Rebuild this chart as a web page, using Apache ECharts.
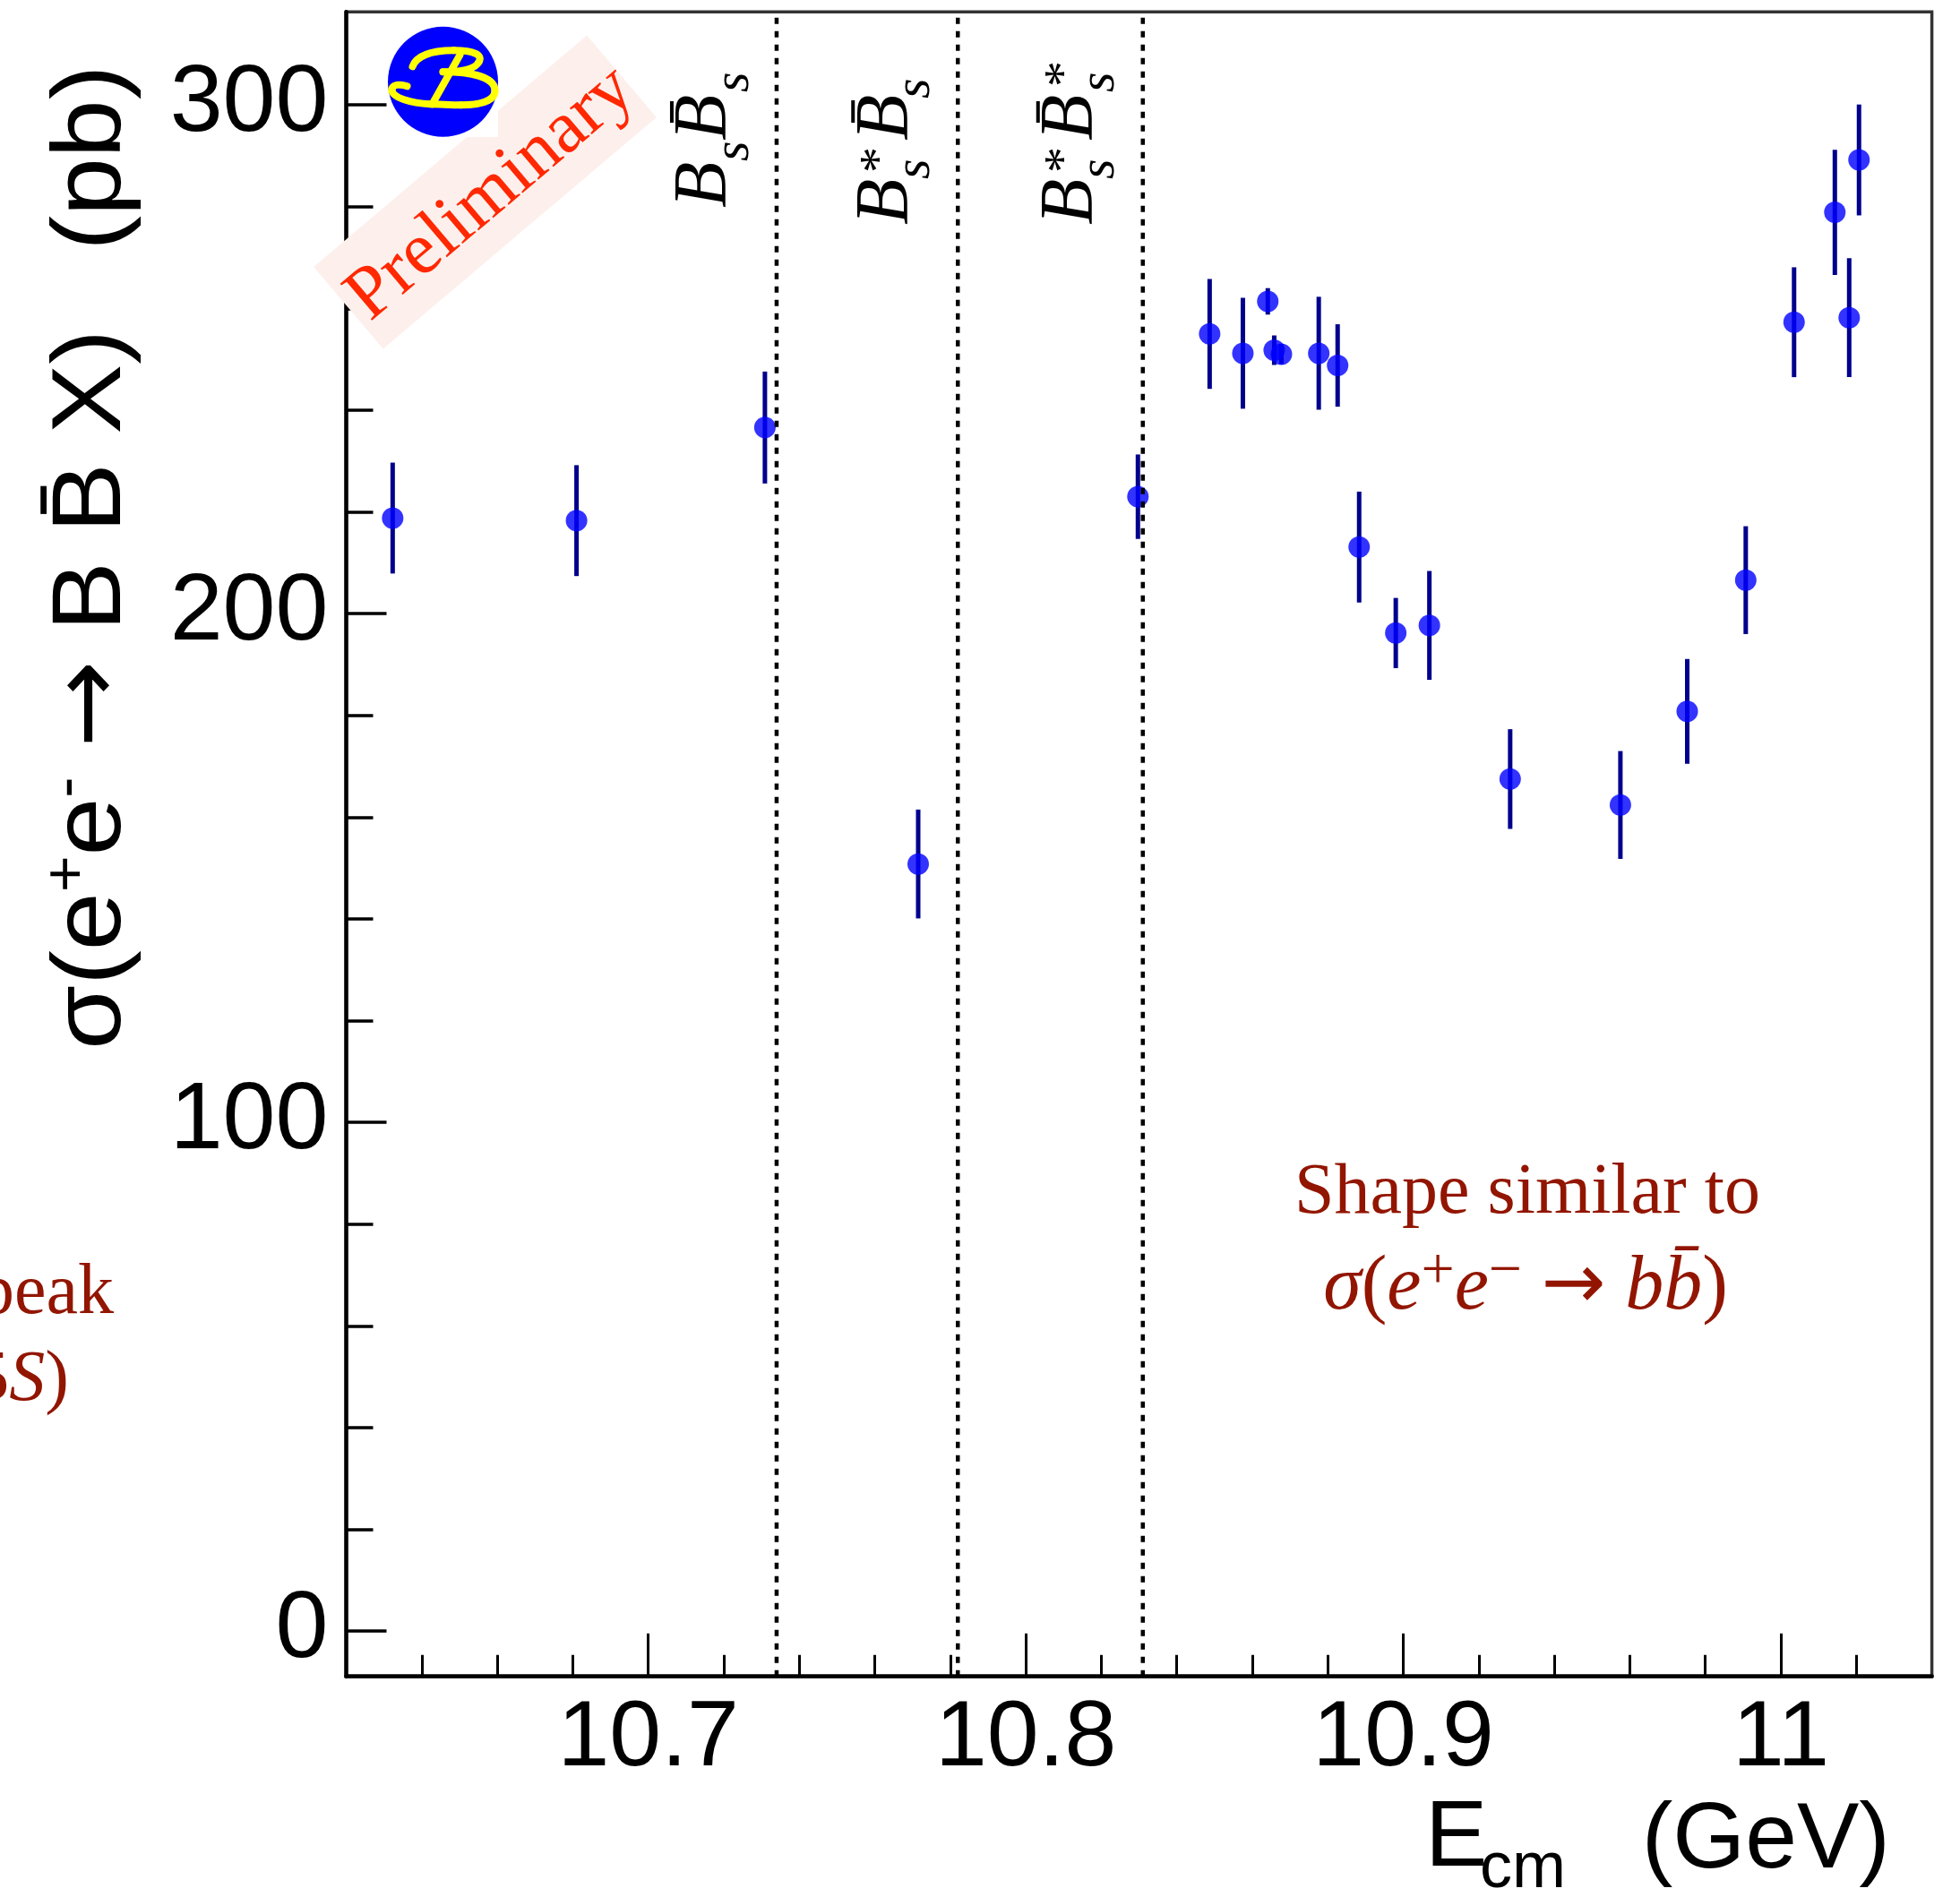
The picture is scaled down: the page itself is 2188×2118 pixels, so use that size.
<!DOCTYPE html>
<html><head><meta charset="utf-8">
<script src="https://cdn.jsdelivr.net/npm/echarts@6/dist/echarts.min.js"></script>
<style>html,body{margin:0;padding:0;background:#fff}#c{width:2188px;height:2118px}</style>
</head><body><div id="c"></div>
<script>
// ---- data ----
const energies = [10.6323, 10.6810, 10.7309, 10.7715, 10.8297, 10.8487, 10.8575, 10.8641, 10.8658, 10.8677, 10.8776, 10.8826, 10.8883, 10.8980, 10.9069, 10.9283, 10.9575, 10.9752, 10.9907, 11.0035, 11.0143, 11.0181, 11.0207];
const sigma    = [218.8, 218.3, 236.6, 150.8, 223.0, 255.0, 251.2, 261.4, 251.8, 251.0, 251.2, 248.8, 213.1, 196.2, 197.7, 167.5, 162.4, 180.8, 206.6, 257.3, 278.9, 258.2, 289.2];
const errors   = [10.9, 10.9, 11.0, 10.7, 8.3, 10.8, 10.9, 2.6, 2.9, 2.0, 11.1, 8.1, 10.9, 6.9, 10.7, 9.8, 10.6, 10.3, 10.6, 10.8, 12.3, 11.7, 10.9];
const thresholds = [10.734, 10.782, 10.831];
const xMajorTicks = [10.7, 10.8, 10.9, 11.0];
const xMinorTicks = [10.64, 10.66, 10.68, 10.72, 10.74, 10.76, 10.78, 10.82, 10.84, 10.86, 10.88, 10.92, 10.94, 10.96, 10.98, 11.02];
const yMajorTicks = [0, 100, 200, 300];
const yMinorTicks = [20, 40, 60, 80, 120, 140, 160, 180, 220, 240, 260, 280];
const xRange = [10.62, 11.04];
const yRange = [-8.9, 318.3];

const SANS = '"Liberation Sans", Arimo, Helvetica, Arial, sans-serif';
const SERIF = '"Liberation Serif", "Times New Roman", Times, serif';
const DARKRED = '#921500';

const chart = echarts.init(document.getElementById('c'), null, {renderer: 'canvas'});

const errData = energies.map((e, i) => [e, sigma[i] - errors[i], sigma[i] + errors[i]]);
const ptData = energies.map((e, i) => [e, sigma[i]]);
const thrData = thresholds.map(v => [v, yRange[0], yRange[1]]);

function fmtX(v) { return Math.abs(v - 11) < 1e-6 ? '11' : (Math.round(v * 10) / 10).toFixed(1); }

function vLine(stroke, width, dash) {
  return function (params, api) {
    const x = api.value(0);
    const p1 = api.coord([x, api.value(1)]);
    const p2 = api.coord([x, api.value(2)]);
    const st = {stroke: stroke, lineWidth: width};
    if (dash) st.lineDash = dash;
    return {type: 'line', shape: {x1: p1[0], y1: p1[1], x2: p2[0], y2: p2[1]}, style: st};
  };
}

const option = {
  animation: false,
  backgroundColor: '#fff',
  grid: {left: 386.5, top: 13.3, right: 31.4, bottom: 246.3, show: true, borderColor: '#333', borderWidth: 3.5, backgroundColor: 'transparent'},
  xAxis: [
    {type: 'value', min: xRange[0], max: xRange[1], position: 'bottom',
     axisLine: {show: true, onZero: false, lineStyle: {color: '#000', width: 4.5}},
     axisTick: {show: true, inside: true, length: 48, customValues: xMajorTicks, lineStyle: {color: '#000', width: 3}},
     axisLabel: {show: true, customValues: xMajorTicks, formatter: fmtX, fontSize: 104, fontFamily: SANS, color: '#000', margin: 19},
     splitLine: {show: false}},
    {type: 'value', min: xRange[0], max: xRange[1], position: 'bottom',
     axisLine: {show: false, onZero: false},
     axisTick: {show: true, inside: true, length: 24, customValues: xMinorTicks, lineStyle: {color: '#000', width: 3}},
     axisLabel: {show: false}, splitLine: {show: false}}
  ],
  yAxis: [
    {type: 'value', min: yRange[0], max: yRange[1], position: 'left',
     axisLine: {show: true, onZero: false, lineStyle: {color: '#000', width: 4.5}},
     axisTick: {show: true, inside: true, length: 45, customValues: yMajorTicks, lineStyle: {color: '#000', width: 3.5}},
     axisLabel: {show: true, customValues: yMajorTicks, formatter: v => String(Math.round(v)), fontSize: 106, fontFamily: SANS, color: '#000', margin: 20},
     splitLine: {show: false}},
    {type: 'value', min: yRange[0], max: yRange[1], position: 'left',
     axisLine: {show: false, onZero: false},
     axisTick: {show: true, inside: true, length: 30, customValues: yMinorTicks, lineStyle: {color: '#000', width: 3.5}},
     axisLabel: {show: false}, splitLine: {show: false}}
  ],
  series: [
    {type: 'custom', xAxisIndex: 0, yAxisIndex: 0, data: errData, encode: {x: 0, y: [1, 2]}, z: 2, silent: true,
     renderItem: vLine('#00008c', 5)},
    {type: 'scatter', xAxisIndex: 0, yAxisIndex: 0, data: ptData, symbol: 'circle', symbolSize: 24, itemStyle: {color: '#0000ff'}, z: 3, silent: true},
    {type: 'custom', xAxisIndex: 0, yAxisIndex: 0, data: thrData, encode: {x: 0, y: [1, 2]}, z: 4, silent: true, clip: false,
     renderItem: vLine('#000', 4.5, [7, 8])}
  ]
};
chart.setOption(option);

// ---- annotations ----
const thrPx = thresholds.map(v => chart.convertToPixel({xAxisIndex: 0}, v));
function txt(x, y, text, font, fill, align, z) {
  return {type: 'text', x: x, y: y, z: z || 10, silent: true,
    style: {text: text, font: font, fill: fill, align: align || 'left', verticalAlign: 'middle', textAlign: align || 'left', textVerticalAlign: 'middle'}};
}
// piece: [text, alongX, baselineOffset, size, italic]
const thrLayouts = [
  {start: 232, pieces: [['B', 0, 0, 84, 1], ['s', 52, 23, 58, 1], ['B', 75, 0, 84, 1], ['s', 129, 23, 58, 1]], bars: [[95, 119]]},
  {start: 251, pieces: [['B', 0, 0, 84, 1], ['s', 51, 23, 58, 1], ['*', 58, -15, 58, 0], ['B', 94, 0, 84, 1], ['s', 141, 23, 58, 1]], bars: [[114, 139]]},
  {start: 251, pieces: [['B', 0, 0, 84, 1], ['s', 51, 23, 58, 1], ['*', 58, -15, 58, 0], ['B', 94, 0, 84, 1], ['s', 148, 23, 58, 1], ['*', 154, -15, 58, 0]], bars: [[114, 138]]}
];
const graphics = [];
thrLayouts.forEach((L, k) => {
  const children = L.pieces.map(p => txt(p[1], p[2] - 0.305 * p[3], p[0], (p[4] ? 'italic ' : '') + p[3] + 'px ' + SERIF, '#000', 'left', 10));
  L.bars.forEach(b => children.push({type: 'rect', z: 10, silent: true, shape: {x: b[0], y: -66, width: b[1] - b[0], height: 4}, style: {fill: '#000'}}));
  graphics.push({type: 'group', x: thrPx[k] - 53, y: L.start, rotation: Math.PI / 2, children: children});
});

// Preliminary stamp
graphics.push({type: 'group', x: 541.5, y: 214.5, rotation: 40.3 * Math.PI / 180, children: [
  {type: 'rect', z: 50, silent: true, shape: {x: -200, y: -60, width: 400, height: 120}, style: {fill: '#fdf0ec'}},
  txt(4, 6, 'Preliminary', '83px ' + SERIF, '#ff2800', 'center', 51)
]});
// Belle logo
const bSegs = [
  [-34, -17, -30, -28, -15, -35, 12, -35],
  [12, -35, 35, -35, 45, -30, 40, -22],
  [40, -22, 36, -14, 20, -11, 0, -11],
  [0, -11, 30, -11, 58, -6, 58, 10],
  [58, 10, 58, 22, 40, 26, 20, 26],
  [20, 26, 8, 26, -4, 25, -14, 25],
  [-14, 25, -35, 24, -57, 18, -57, 9],
  [-57, 9, -57, 3, -48, 2, -40, 5],
  [19, -30, 9, -12, -2, 7, -12, 25]
];
const logoChildren = [{type: 'circle', z: 53, silent: true, shape: {cx: 0, cy: 0, r: 61.5}, style: {fill: '#0000ff'}}];
bSegs.forEach(s => logoChildren.push({type: 'bezierCurve', z: 54, silent: true,
  shape: {x1: s[0], y1: s[1], cpx1: s[2], cpy1: s[3], cpx2: s[4], cpy2: s[5], x2: s[6], y2: s[7]},
  style: {fill: null, stroke: '#ffff00', lineWidth: 8, lineCap: 'round'}}));
graphics.push({type: 'rect', silent: true, z: 52, shape: {x: 433, y: 30, width: 123, height: 123}, style: {fill: '#fff'}});
graphics.push({type: 'group', x: 494.5, y: 91.3, children: logoChildren});

// Y axis title (slightly stretched along its length, like the reference)
graphics.push({type: 'text', x: 104, y: 1172, z: 10, rotation: Math.PI / 2, scaleX: 1.06, silent: true, style: {
  text: '{m|σ(e}{s|+}{m|e}{s|-}{m| }{a|→}{m| B B̄ X)  \u2009(pb)}',
  align: 'left', verticalAlign: 'middle', textAlign: 'left', textVerticalAlign: 'middle', fill: '#000',
  rich: {m: {fontSize: 110, fontFamily: SANS, lineHeight: 120, fill: '#000', color: '#000'},
         a: {fontSize: 110, fontFamily: '"DejaVu Sans"', lineHeight: 120, fill: '#000', color: '#000'},
         s: {fontSize: 66, fontFamily: SANS, lineHeight: 60, verticalAlign: 'top', fill: '#000', color: '#000'}}
}});
// X axis title
graphics.push(txt(1591, 2054, 'E', '104px ' + SANS, '#000', 'left'));
graphics.push(txt(1652, 2087, 'cm', '72px ' + SANS, '#000', 'left'));
graphics.push(txt(2110, 2056, '(GeV)', '104px ' + SANS, '#000', 'right'));

// Shape text
graphics.push(txt(1705, 1333, 'Shape similar to', '80px ' + SERIF, DARKRED, 'center'));
graphics.push({type: 'text', x: 1703, y: 1438, z: 10, silent: true, style: {
  text: '{i|σ}{u|(}{i|e}{s|+}{i|e}{s|−}{u| }{a|→}{u| }{i|b}{i|b̄}{u|)}',
  align: 'center', verticalAlign: 'middle', textAlign: 'center', textVerticalAlign: 'middle', fill: DARKRED,
  rich: {i: {fontSize: 86, fontFamily: SERIF, fontStyle: 'italic', lineHeight: 100, fill: DARKRED, color: DARKRED},
         u: {fontSize: 86, fontFamily: SERIF, lineHeight: 100, fill: DARKRED, color: DARKRED},
         a: {fontSize: 86, fontFamily: '"DejaVu Sans"', lineHeight: 100, fill: DARKRED, color: DARKRED},
         s: {fontSize: 66, fontFamily: SERIF, lineHeight: 54, verticalAlign: 'top', fill: DARKRED, color: DARKRED}}
}});
// left cut-off text
graphics.push(txt(127, 1445, 'No peak', '80px ' + SERIF, DARKRED, 'right'));
graphics.push({type: 'text', x: 77, y: 1542, z: 10, silent: true, style: {
  text: '{u|at ϒ(5}{i|S}{u|)}', align: 'right', verticalAlign: 'middle', textAlign: 'right', textVerticalAlign: 'middle', fill: DARKRED,
  rich: {i: {fontSize: 80, fontFamily: SERIF, fontStyle: 'italic', fill: DARKRED, color: DARKRED},
         u: {fontSize: 80, fontFamily: SERIF, fill: DARKRED, color: DARKRED}}
}});

chart.setOption({graphic: {elements: graphics}});
</script></body></html>
